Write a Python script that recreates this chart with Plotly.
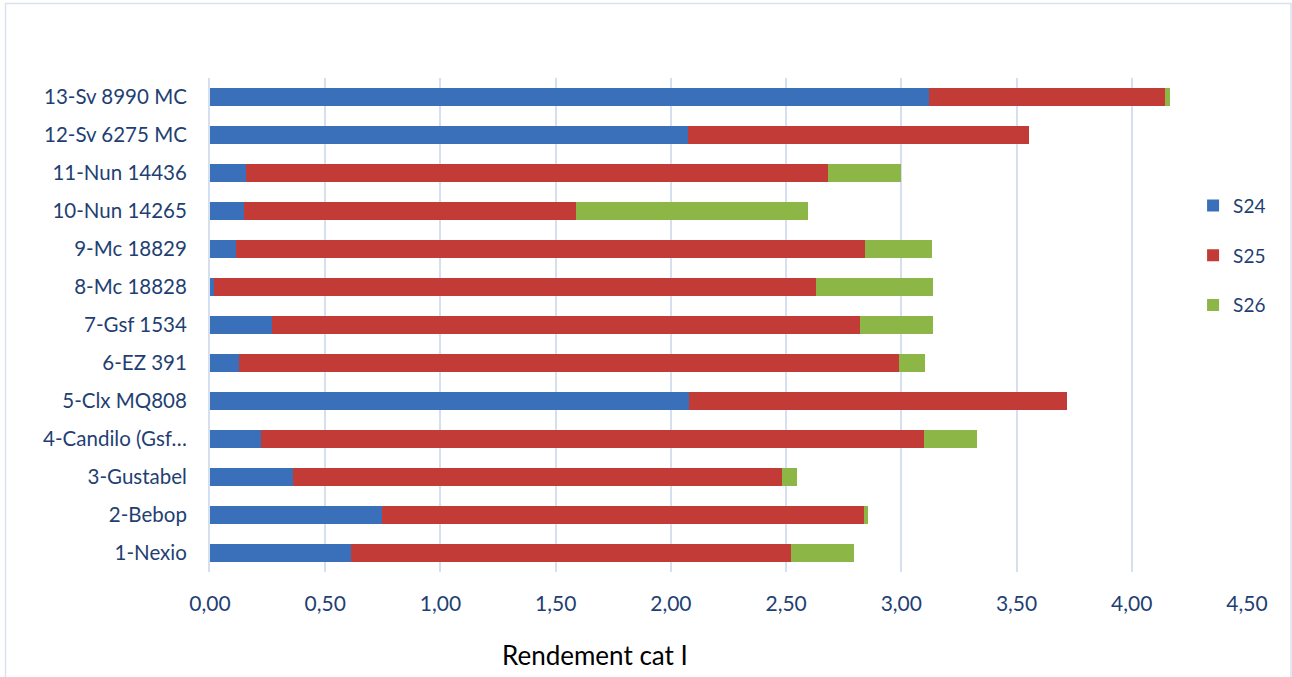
import plotly.graph_objects as go

categories = ["1-Nexio", "2-Bebop", "3-Gustabel", "4-Candilo (Gsf…", "5-Clx MQ808",
              "6-EZ 391", "7-Gsf 1534", "8-Mc 18828", "9-Mc 18829", "10-Nun 14265",
              "11-Nun 14436", "12-Sv 6275 MC", "13-Sv 8990 MC"]
s24 = [0.61, 0.745, 0.36, 0.22, 2.077, 0.127, 0.267, 0.017, 0.111, 0.146, 0.157, 2.073, 3.12]
s25 = [1.91, 2.094, 2.123, 2.877, 1.642, 2.864, 2.555, 2.614, 2.732, 1.443, 2.526, 1.481, 1.023]
s26 = [0.273, 0.017, 0.065, 0.23, 0.0, 0.113, 0.316, 0.507, 0.291, 1.005, 0.317, 0.0, 0.022]
series_names = ["S24", "S25", "S26"]
colors = ["#3A70BA", "#C23B37", "#8CB645"]
x_ticks = [0, 0.5, 1, 1.5, 2, 2.5, 3, 3.5, 4, 4.5]
x_tick_labels = ["0,00", "0,50", "1,00", "1,50", "2,00", "2,50", "3,00", "3,50", "4,00", "4,50"]

txt = "#1F3F73"
font_family = "Lato, 'Open Sans', sans-serif"

fig = go.Figure()
for name, vals, col in zip(series_names, [s24, s25, s26], colors):
    fig.add_trace(go.Bar(
        y=categories, x=vals, name=name, orientation="h",
        marker=dict(color=col, line=dict(width=0)),
        legendgroup=name,
    ))

fig.update_layout(
    barmode="stack",
    bargap=0.55,
    width=1292, height=677,
    margin=dict(l=210, r=45, t=78, b=105, autoexpand=False),
    paper_bgcolor="white",
    plot_bgcolor="white",
    font=dict(family=font_family, color=txt, size=20),
    showlegend=True,
    legend=dict(
        x=0.948, y=0.780, xanchor="left", yanchor="top",
        traceorder="grouped", tracegroupgap=22,
        font=dict(size=19, color=txt),
        bgcolor="rgba(0,0,0,0)",
        itemwidth=30,
    ),
    xaxis=dict(
        range=[0, 4.5], automargin=False,
        tickvals=x_ticks, ticktext=x_tick_labels,
        showgrid=True, gridcolor="#D5DFEE", gridwidth=2,
        zeroline=False, showline=False,
        ticks="", ticklen=0, ticklabelstandoff=17,
        tickfont=dict(size=21, color=txt),
    ),
    yaxis=dict(
        type="category", automargin=False,
        categoryorder="array", categoryarray=categories,
        showgrid=False, zeroline=False,
        showline=True, linecolor="#D5DFEE", linewidth=2,
        ticks="", ticklabelstandoff=17,
        tickfont=dict(size=20.5, color=txt),
    ),
    annotations=[dict(
        text="Rendement cat I", x=0.371, y=-0.168, xref="paper", yref="paper",
        xanchor="center", yanchor="middle", showarrow=False,
        font=dict(size=26, color="#000000", family=font_family),
    )],
    shapes=[dict(
        type="rect", xref="paper", yref="paper",
        x0=-0.1972, x1=1.0424, y0=-0.2186, y1=1.1508,
        line=dict(color="#D9E2EE", width=1.5), fillcolor="rgba(0,0,0,0)",
        layer="below",
    )],
)

fig.write_html(
    "out.html",
    config={"displayModeBar": False},
    post_script="document.body.style.margin='0';document.body.style.overflow='hidden';",
)
